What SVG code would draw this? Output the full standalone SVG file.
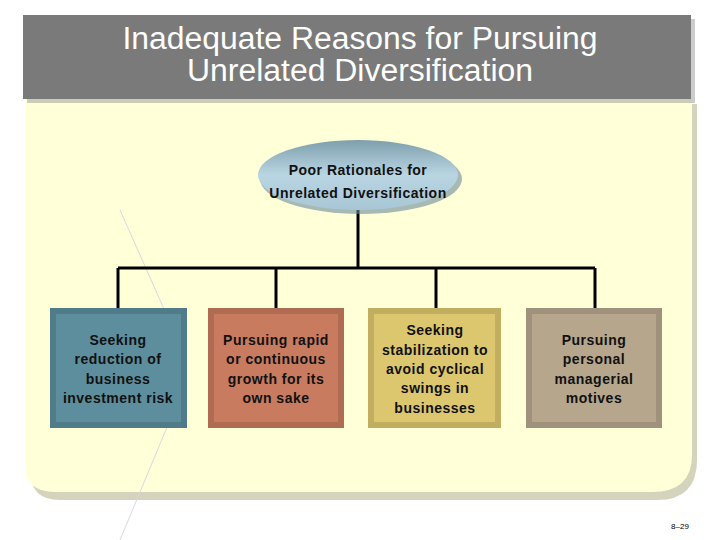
<svg xmlns="http://www.w3.org/2000/svg" width="720" height="540" viewBox="0 0 720 540">
<defs>
<style>
.t{font-family:"Liberation Sans",Arial,sans-serif;font-weight:bold;font-size:14px;fill:#111;text-anchor:middle;letter-spacing:0.5px}
.c{stroke:#000;stroke-width:3;fill:none}
.bevel{fill:none;stroke:#000;stroke-opacity:0.12;stroke-width:6}
</style>
<linearGradient id="eg" x1="0" y1="0" x2="0" y2="1"><stop offset="0" stop-color="#7f9fae"/><stop offset="0.5" stop-color="#b9d5e2"/><stop offset="1" stop-color="#a9c6d6"/></linearGradient>
</defs>
<rect width="720" height="540" fill="#fff"/>
<path d="M30 104 H697 V460 Q697 500 657 500 H60 Q30 500 30 470 Z" fill="#b8b690" opacity="0.6"/>
<path d="M25 98 H692 V455 Q692 492 652 492 H55 Q25 492 25 465 Z" fill="#ffffd8"/>
<line x1="120" y1="210" x2="180" y2="345" stroke="#d8d8e0" stroke-width="1"/>
<line x1="170" y1="420" x2="120" y2="540" stroke="#d8d8e0" stroke-width="1"/>
<rect x="27" y="19" width="668" height="84" fill="#999" opacity="0.5"/>
<rect x="23" y="15" width="668" height="84" fill="#7a7a7a"/>
<text x="360" y="49" font-family="'Liberation Sans',Arial,sans-serif" font-size="31" fill="#fff" text-anchor="middle" textLength="475" lengthAdjust="spacingAndGlyphs">Inadequate Reasons for Pursuing</text>
<text x="360" y="81" font-family="'Liberation Sans',Arial,sans-serif" font-size="31" fill="#fff" text-anchor="middle" textLength="346" lengthAdjust="spacingAndGlyphs">Unrelated Diversification</text>
<g id="connectors">
<path class="c" d="M358 208 V268 M118 268 H595 M118 268 V310 M276 268 V310 M436 268 V310 M595 268 V310"/>
</g>
<g id="root">
<ellipse cx="361" cy="179" rx="101" ry="35" fill="#6b8a9a" opacity="0.6"/>
<ellipse cx="358" cy="175" rx="100" ry="35" fill="url(#eg)"/>
<text class="t" x="358" y="175" font-size="16">Poor Rationales for</text>
<text class="t" x="358" y="198" font-size="16">Unrelated Diversification</text>
</g>
<g id="n1"><rect x="50" y="308" width="137" height="120" fill="#5c8e9d"/><rect x="53" y="311" width="131" height="114" class="bevel"/>
<text class="t" x="118" y="345">Seeking</text><text class="t" x="118" y="364">reduction of</text><text class="t" x="118" y="384">business</text><text class="t" x="118" y="403">investment risk</text></g>
<g id="n2"><rect x="208" y="308" width="136" height="120" fill="#c97b5f"/><rect x="211" y="311" width="130" height="114" class="bevel"/>
<text class="t" x="276" y="345">Pursuing rapid</text><text class="t" x="276" y="364">or continuous</text><text class="t" x="276" y="384">growth for its</text><text class="t" x="276" y="403">own sake</text></g>
<g id="n3"><rect x="368" y="308" width="133" height="120" fill="#dcc76e"/><rect x="371" y="311" width="127" height="114" class="bevel"/>
<text class="t" x="435" y="335">Seeking</text><text class="t" x="435" y="355">stabilization to</text><text class="t" x="435" y="374">avoid cyclical</text><text class="t" x="435" y="393">swings in</text><text class="t" x="435" y="413">businesses</text></g>
<g id="n4"><rect x="526" y="308" width="136" height="120" fill="#b6a68c"/><rect x="529" y="311" width="130" height="114" class="bevel"/>
<text class="t" x="594" y="345">Pursuing</text><text class="t" x="594" y="364">personal</text><text class="t" x="594" y="384">managerial</text><text class="t" x="594" y="403">motives</text></g>
<text x="680" y="529" font-family="'Liberation Sans',Arial,sans-serif" font-size="8" text-anchor="middle" fill="#000">8–29</text>
</svg>
